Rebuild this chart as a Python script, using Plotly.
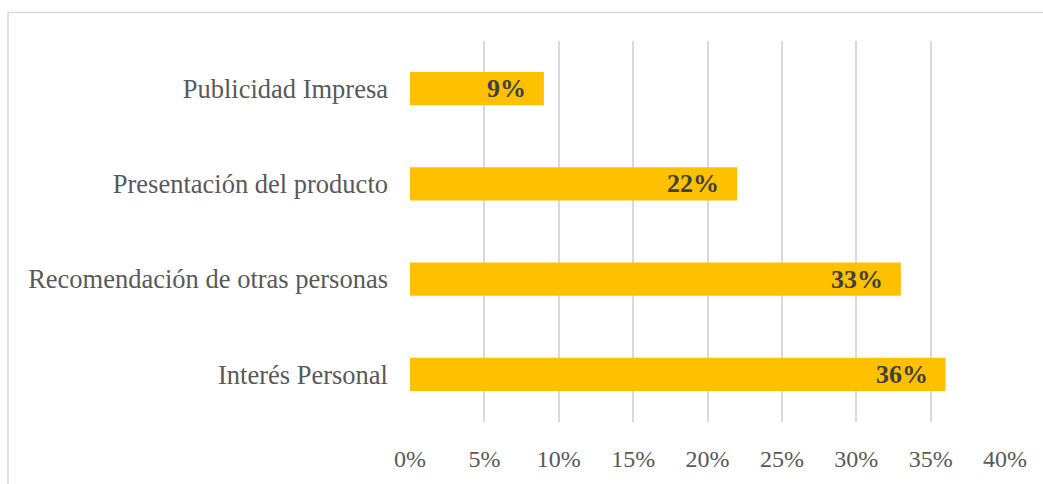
import plotly.graph_objects as go

# Survey responses: reasons for choosing the product
categories = ["Interés Personal", "Recomendación de otras personas",
              "Presentación del producto", "Publicidad Impresa"]
shares = [0.36, 0.33, 0.22, 0.09]
tick_values = [0, 0.05, 0.10, 0.15, 0.20, 0.25, 0.30, 0.35, 0.40]

BAR_COLOR = "#FFC000"
GRID_COLOR = "#D9D9D9"
FONT = "Liberation Serif, Times New Roman, serif"

fig = go.Figure(
    go.Bar(
        y=categories,
        x=shares,
        orientation="h",
        marker=dict(color=BAR_COLOR, line=dict(width=0)),
        hoverinfo="skip",
    )
)

# Value labels sitting inside the end of each bar
for cat, val in zip(categories, shares):
    fig.add_annotation(
        x=val, y=cat, xref="x", yref="y",
        text=f"<b>{val * 100:.0f}%</b>",
        showarrow=False, xanchor="right", yanchor="middle",
        xshift=-16, yshift=0,
        font=dict(family=FONT, size=26, color="#404040"),
    )

# Outer chart frame
fig.add_shape(
    type="rect", xref="paper", yref="paper",
    x0=-0.6756, x1=1.2, y0=-0.3, y1=1.075,
    line=dict(color=GRID_COLOR, width=1.5), fillcolor="rgba(0,0,0,0)",
    layer="below",
)

fig.update_layout(
    width=1043, height=484,
    margin=dict(l=410, r=38, t=41, b=56),
    paper_bgcolor="white", plot_bgcolor="white",
    bargap=0.65,
    showlegend=False,
    font=dict(family=FONT, color="#595959"),
    xaxis=dict(
        range=[0, 0.4],
        tickvals=tick_values,
        tickformat=".0%",
        showgrid=True, gridcolor=GRID_COLOR, gridwidth=1.5,
        zeroline=False, showline=False,
        ticks="", ticklabelstandoff=20,
        tickfont=dict(family=FONT, size=24, color="#595959"),
        fixedrange=True,
    ),
    yaxis=dict(
        categoryorder="array", categoryarray=categories,
        showgrid=False, zeroline=False, showline=False,
        ticks="", ticklabelstandoff=21,
        tickfont=dict(family=FONT, size=26.5, color="#595959"),
        fixedrange=True,
    ),
)

fig.write_html("out.html")
